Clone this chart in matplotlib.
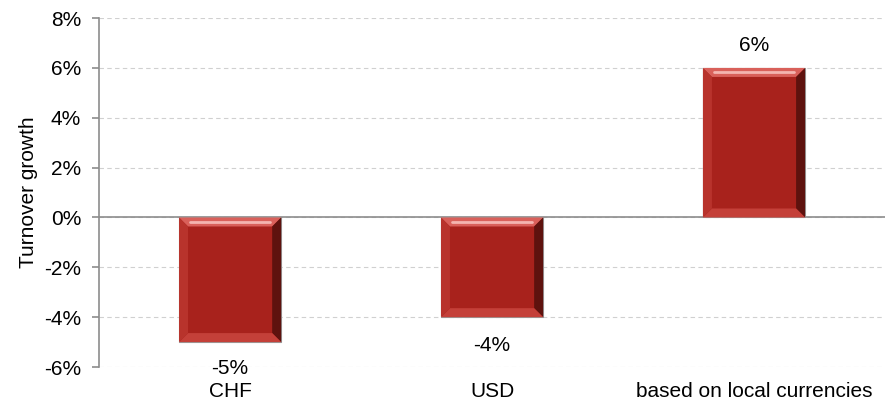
import matplotlib
matplotlib.use("Agg")
import matplotlib.pyplot as plt
from matplotlib.patches import Polygon
from matplotlib.ticker import FuncFormatter

categories = ["CHF", "USD", "based on local currencies"]
growth = [-5, -4, 6]
value_labels = ["-5%", "-4%", "6%"]
y_ticks = [-6, -4, -2, 0, 2, 4, 6, 8]

plt.rcParams["font.family"] = ["Liberation Sans", "DejaVu Sans"]
plt.rcParams["font.size"] = 15

fig = plt.figure(figsize=(8.85, 4.11), dpi=100)
ax = fig.add_axes([0.112, 0.107, 0.888, 0.849])

bar_w = 0.39
ax.set_xlim(-0.5, 2.5)
ax.set_ylim(-6, 8)

bars = ax.bar(range(len(growth)), growth, width=bar_w, color="#A8221C",
              edgecolor="#9a9a9a", linewidth=0.8, zorder=3)


def bevel(ax, rect, size=9):
    # beveled look: light top face, dark right face, shaded left/bottom
    fig.canvas.draw()
    x0, y0 = rect.get_x(), min(rect.get_y(), rect.get_y() + rect.get_height())
    x1, y1 = x0 + rect.get_width(), max(rect.get_y(), rect.get_y() + rect.get_height())
    (px0, py0), (px1, py1) = ax.transData.transform([(x0, y0), (x1, y1)])
    inv = ax.transData.inverted()
    s = size
    faces = [
        ([(px0, py1), (px1, py1), (px1 - s, py1 - s), (px0 + s, py1 - s)], "#D9605A"),
        ([(px1, py1), (px1, py0), (px1 - s, py0 + s), (px1 - s, py1 - s)], "#5E120E"),
        ([(px0, py0), (px1, py0), (px1 - s, py0 + s), (px0 + s, py0 + s)], "#C44039"),
        ([(px0, py1), (px0, py0), (px0 + s, py0 + s), (px0 + s, py1 - s)], "#B8332C"),
    ]
    for pts, col in faces:
        ax.add_patch(Polygon(inv.transform(pts), closed=True, facecolor=col,
                             edgecolor="none", zorder=4))
    # bright streak along the top face
    hl = inv.transform([(px0 + s + 2, py1 - s / 2), (px1 - s - 2, py1 - s / 2)])
    ax.plot(hl[:, 0], hl[:, 1], color="#F4B5B0", lw=2.0, zorder=5,
            solid_capstyle="round")


for b in bars:
    bevel(ax, b)

for i, (v, lab) in enumerate(zip(growth, value_labels)):
    off = 0.92 if v > 0 else (-1.04 if i == 0 else -1.12)
    ax.text(i, v + off, lab, ha="center", va="center", color="#000000", zorder=6)

ax.axhline(0, color="#8c8c8c", lw=1.2, zorder=2)
ax.set_yticks(y_ticks)
ax.yaxis.set_major_formatter(FuncFormatter(lambda v, p: f"{v:.0f}%"))
ax.yaxis.grid(True, linestyle=(0, (4, 3)), color="#d0d0d0", lw=0.8, zorder=0)
ax.set_xticks(range(len(categories)))
ax.set_xticklabels(categories)
ax.tick_params(axis="x", length=0, pad=11)
ax.tick_params(axis="y", length=5, width=1.2, color="#8c8c8c", pad=8)
for side in ["top", "right", "bottom"]:
    ax.spines[side].set_visible(False)
ax.spines["left"].set_color("#8c8c8c")
ax.spines["left"].set_linewidth(1.2)
ax.set_ylabel("Turnover growth", labelpad=8)
ax.yaxis.set_label_coords(-0.078, 0.5)

fig.savefig("out.png", dpi=100)
